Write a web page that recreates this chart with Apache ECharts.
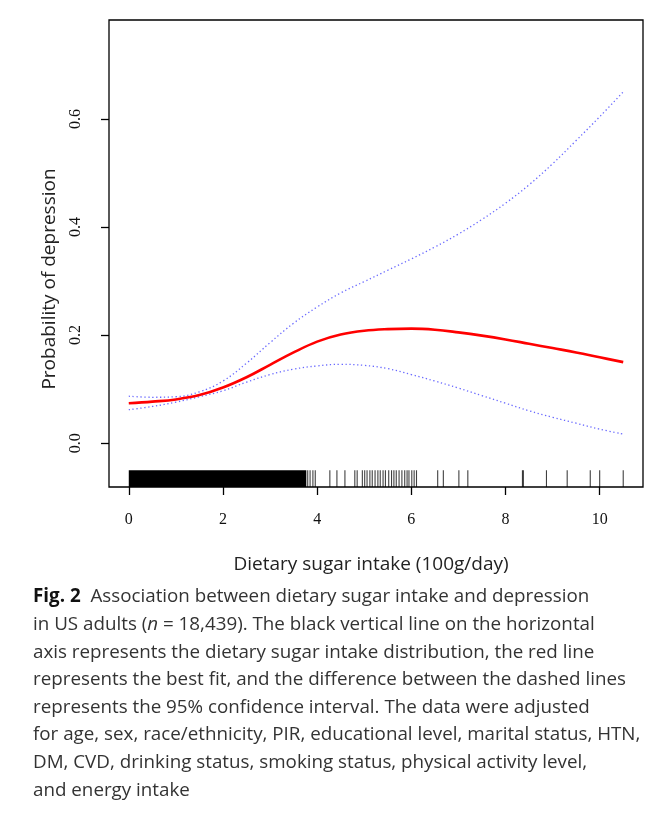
<!DOCTYPE html>
<html>
<head>
<meta charset="utf-8">
<script src="https://cdn.jsdelivr.net/npm/echarts@6/dist/echarts.min.js"></script>
<style>
html,body{margin:0;padding:0;background:#fff;}
#chart{width:669px;height:813px;}
</style>
</head>
<body>
<div id="chart"></div>
<script>
// ---- data ----
var xValues = [0,0.5,1,1.5,2,2.5,3,3.5,4,4.5,5,5.5,6,6.5,7,7.5,8,8.5,9,9.5,10,10.5];
var fitValues = [0.074,0.077,0.081,0.089,0.103,0.122,0.145,0.168,0.188,0.201,0.208,0.211,0.212,0.210,0.205,0.199,0.192,0.184,0.176,0.168,0.159,0.150];
var upperValues = [0.087,0.085,0.086,0.095,0.115,0.148,0.186,0.222,0.252,0.278,0.299,0.320,0.341,0.363,0.387,0.414,0.444,0.478,0.517,0.560,0.604,0.650];
var lowerValues = [0.062,0.068,0.076,0.086,0.097,0.113,0.127,0.137,0.143,0.146,0.144,0.138,0.127,0.115,0.102,0.088,0.074,0.060,0.048,0.037,0.026,0.017];
var rugDenseRange = [0, 3.77];
var rugValues = [3.80,3.85,3.91,3.96,4.27,4.42,4.59,4.80,4.85,4.96,5.01,5.06,5.12,5.17,5.23,5.29,5.34,5.40,5.45,5.52,5.58,5.63,5.68,5.74,5.80,5.86,5.91,5.95,6.01,6.06,6.11,6.56,6.68,7.01,7.20,8.36,8.38,8.87,9.31,9.80,10.00,10.50];
var xTicks = [0,2,4,6,8,10];
var yTicks = [0,0.2,0.4,0.6];
var xTitle = 'Dietary sugar intake (100g/day)';
var yTitle = 'Probability of depression';
var captionLines = [
  [{t:'Fig. 2',s:'b'},{t:'  Association between dietary sugar intake and depression'}],
  [{t:'in US adults ('},{t:'n',s:'i'},{t:' = 18,439). The black vertical line on the horizontal'}],
  [{t:'axis represents the dietary sugar intake distribution, the red line'}],
  [{t:'represents the best fit, and the difference between the dashed lines'}],
  [{t:'represents the 95% confidence interval. The data were adjusted'}],
  [{t:'for age, sex, race/ethnicity, PIR, educational level, marital status, HTN,'}],
  [{t:'DM, CVD, drinking status, smoking status, physical activity level,'}],
  [{t:'and energy intake'}]
];

// ---- layout constants ----
var X_MIN = -0.42, X_MAX = 10.92, Y_MIN = -0.081, Y_MAX = 0.783, RUG_TOP = -0.05;
var serif = '"Liberation Serif","DejaVu Serif",serif';
var sans = '"Open Sans","Noto Sans",sans-serif';

function pairs(ys){ return xValues.map(function(x,i){ return [x, ys[i]]; }); }

var chart = echarts.init(document.getElementById('chart'), null, {renderer:'canvas'});

var graphics = [];
graphics.push({
  type:'text',
  x:371, y:565,
  style:{ text: xTitle, font: '19px ' + sans, fill:'#222', textAlign:'center', textVerticalAlign:'middle' }
});
graphics.push({
  type:'text',
  x:50, y:279, rotation: Math.PI/2,
  style:{ text: yTitle, font: '19px ' + sans, fill:'#222', textAlign:'center', textVerticalAlign:'middle' }
});
captionLines.forEach(function(line, i){
  var text = line.map(function(seg){ return seg.s ? '{' + seg.s + '|' + seg.t + '}' : '{r|' + seg.t + '}'; }).join('');
  graphics.push({
    type:'text',
    x:33, y:597 + i*27.6,
    style:{
      text: text,
      textVerticalAlign:'middle',
      rich:{
        r:{ font:'18.8px ' + sans, fill:'#333' },
        b:{ font:'bold 18.8px ' + sans, fill:'#111' },
        i:{ font:'italic 18.8px ' + sans, fill:'#333' }
      }
    }
  });
});

var option = {
  animation:false,
  backgroundColor:'#fff',
  grid:{ left:109, right:26, top:20, bottom:326, show:true, borderColor:'#000', borderWidth:1.3, backgroundColor:'transparent', containLabel:false },
  xAxis:{
    type:'value', min:X_MIN, max:X_MAX,
    axisLine:{show:false, onZero:false},
    splitLine:{show:false},
    axisTick:{show:true, inside:false, length:8, customValues:xTicks, lineStyle:{color:'#000', width:1.3}},
    axisLabel:{show:true, customValues:xTicks, margin:25, fontFamily:serif, fontSize:16, color:'#111', formatter:function(v){ return String(Math.round(v)); }}
  },
  yAxis:{
    type:'value', min:Y_MIN, max:Y_MAX,
    axisLine:{show:false, onZero:false},
    splitLine:{show:false},
    axisTick:{show:true, inside:false, length:8, customValues:yTicks, lineStyle:{color:'#000', width:1.3}},
    axisLabel:{show:true, customValues:yTicks, margin:25, rotate:90, fontFamily:serif, fontSize:16, color:'#111', formatter:function(v){ return v.toFixed(1); }}
  },
  graphic: graphics,
  series:[
    {
      type:'custom', name:'rugDense', silent:true, z:3,
      data:[rugDenseRange],
      renderItem:function(params, api){
        var p0 = api.coord([api.value(0), RUG_TOP]);
        var p1 = api.coord([api.value(1), Y_MIN]);
        return { type:'rect', shape:{ x:p0[0], y:p0[1], width:p1[0]-p0[0], height:p1[1]-p0[1] }, style:{ fill:'#000' } };
      }
    },
    {
      type:'custom', name:'rug', silent:true, z:3,
      data:rugValues.map(function(v){ return [v]; }),
      renderItem:function(params, api){
        var p0 = api.coord([api.value(0), RUG_TOP]);
        var p1 = api.coord([api.value(0), Y_MIN]);
        return { type:'line', shape:{ x1:p0[0], y1:p0[1], x2:p1[0], y2:p1[1] }, style:{ stroke:'#000', lineWidth:1.1, opacity:0.75 } };
      }
    },
    {
      type:'line', name:'upper', data:pairs(upperValues), smooth:0.4, symbol:'none',
      lineStyle:{ color:'rgba(40,40,255,0.7)', width:1.3, type:[1.3,2.6] }
    },
    {
      type:'line', name:'lower', data:pairs(lowerValues), smooth:0.4, symbol:'none',
      lineStyle:{ color:'rgba(40,40,255,0.7)', width:1.3, type:[1.3,2.6] }
    },
    {
      type:'line', name:'fit', data:pairs(fitValues), smooth:0.4, symbol:'none', z:5,
      lineStyle:{ color:'#ff0000', width:2.6 }
    }
  ]
};
chart.setOption(option);
</script>
</body>
</html>
